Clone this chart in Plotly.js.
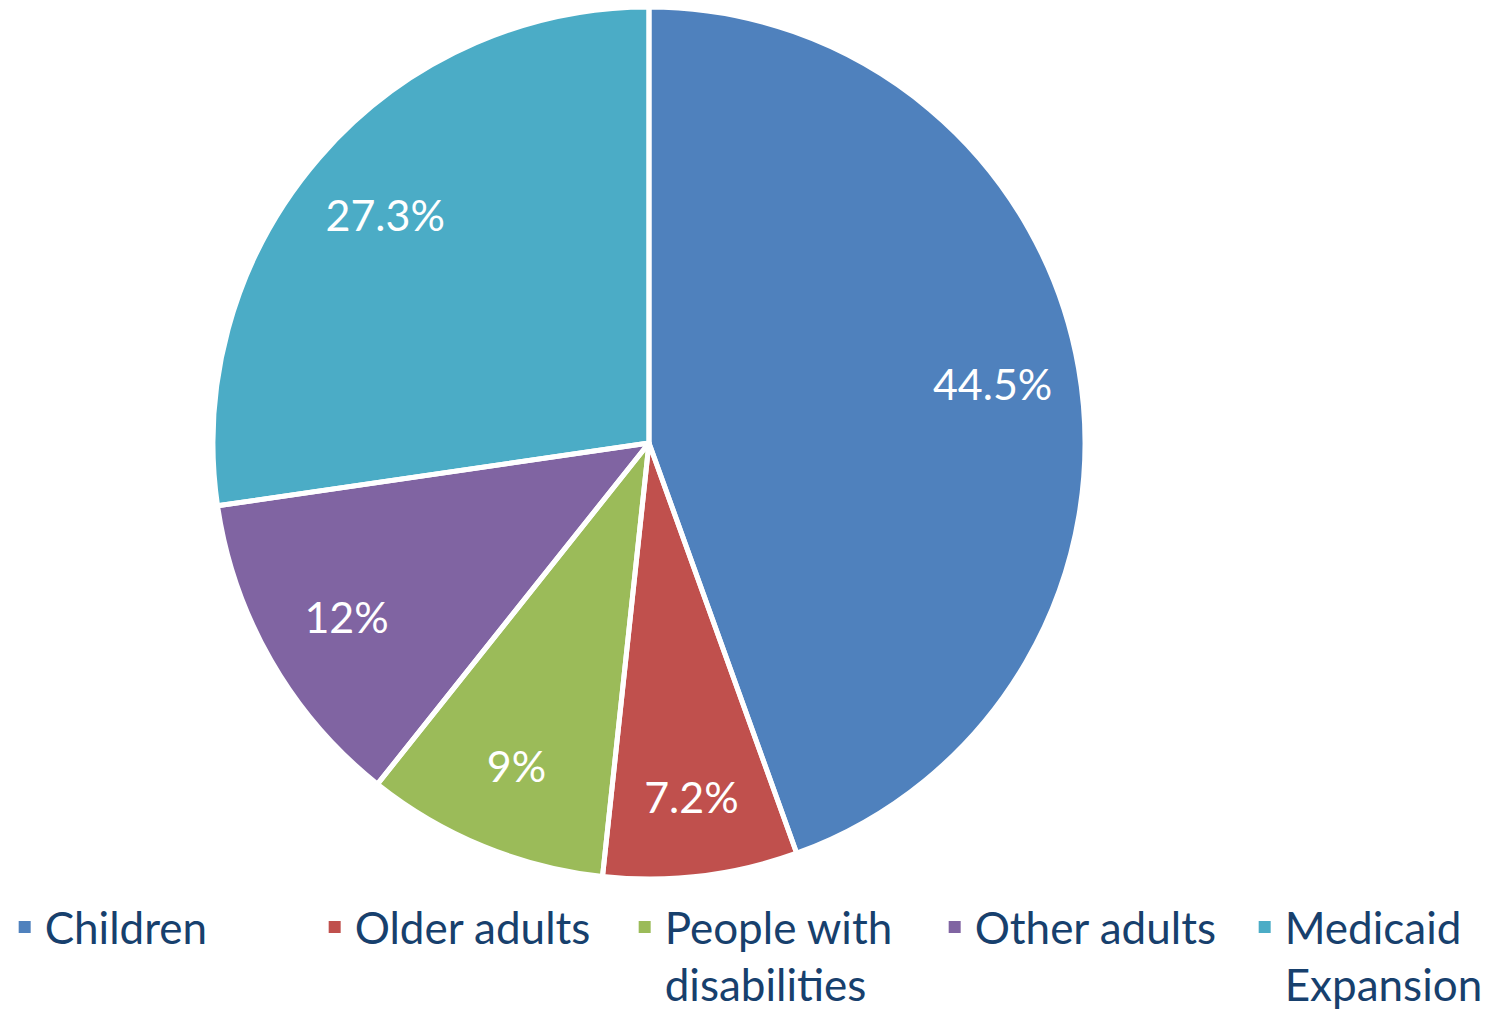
<!DOCTYPE html>
<html>
<head>
<meta charset="utf-8">
<script src="https://cdn.plot.ly/plotly-3.0.1.min.js"></script>
<style>html,body{margin:0;padding:0;background:#fff;overflow:hidden;}#chart{width:1560px;height:1040px;}</style>
</head>
<body>
<div id="chart"></div>
<script>
const categories = ["Children", "Older adults", "People with<br>disabilities", "Other adults", "Medicaid<br>Expansion"];
const shares = [44.5, 7.2, 9, 12, 27.3];
const shareLabels = ["44.5%", "7.2%", "9%", "12%", "27.3%"];
const colors = ["#4F81BD", "#C0504D", "#9BBB59", "#8064A2", "#4BACC6"];

const W = 1560, H = 1040;
const pieDomain = {x: [213/W, 1085/W], y: [1 - 879/H, 1 - 7/H]};
const clear = colors.map(() => "rgba(0,0,0,0)");

// main filled pie (carries the legend)
const pieTrace = {
  type: "pie",
  labels: categories,
  values: shares,
  textinfo: "none",
  sort: false,
  direction: "clockwise",
  rotation: 0,
  marker: {colors: colors, line: {width: 0}},
  domain: pieDomain,
  hoverinfo: "label+percent"
};

// white separators between slices
const borderTrace = {
  type: "pie",
  labels: shareLabels.map(s => "b" + s),
  values: shares,
  textinfo: "none",
  sort: false,
  direction: "clockwise",
  rotation: 0,
  showlegend: false,
  marker: {colors: clear, line: {color: "#ffffff", width: 5}},
  domain: pieDomain,
  hoverinfo: "skip"
};

// transparent ring carrying the percentage labels out toward the rim
const labelRing = {
  type: "pie",
  labels: shareLabels,
  values: shares,
  text: shareLabels,
  textinfo: "text",
  textposition: "inside",
  insidetextorientation: "horizontal",
  hole: 0.6,
  sort: false,
  direction: "clockwise",
  rotation: 0,
  showlegend: false,
  marker: {colors: clear, line: {width: 0}},
  textfont: {family: "Lato, 'Open Sans', sans-serif", size: 43, color: "#ffffff"},
  domain: pieDomain,
  hoverinfo: "skip"
};

const layout = {
  width: W, height: H,
  margin: {l: 0, r: 0, t: 0, b: 0},
  paper_bgcolor: "#ffffff",
  showlegend: true,
  legend: {
    orientation: "h",
    x: 0.003, xanchor: "left",
    y: 1 - 892/H, yanchor: "top",
    entrywidth: 265, entrywidthmode: "pixels",
    font: {family: "Lato, 'Open Sans', sans-serif", size: 44, color: "#17406D"},
    traceorder: "normal",
    valign: "top"
  }
};

Plotly.newPlot("chart", [pieTrace, borderTrace, labelRing], layout, {displayModeBar: false, staticPlot: true});
</script>
</body>
</html>
